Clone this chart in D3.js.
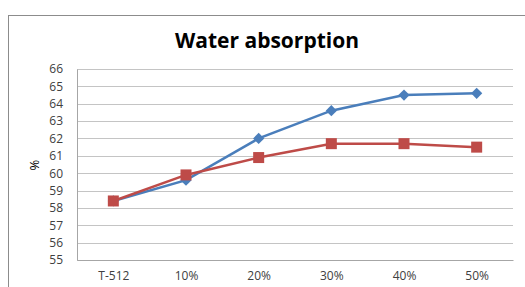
<!DOCTYPE html>
<html>
<head>
<meta charset="utf-8">
<script src="https://cdn.jsdelivr.net/npm/d3@7"></script>
<style>
  body { margin: 0; background: #fff; }
  svg { display: block; font-family: "Open Sans", "DejaVu Sans", sans-serif; }
</style>
</head>
<body>
<div id="chart"></div>
<script>
var categories = ["T-512", "10%", "20%", "30%", "40%", "50%"];
var blueValues = [58.4, 59.6, 62.0, 63.6, 64.5, 64.6];
var redValues = [58.4, 59.9, 60.9, 61.7, 61.7, 61.5];
var yTicks = [55, 56, 57, 58, 59, 60, 61, 62, 63, 64, 65, 66];

var svgWidth = 525;
var svgHeight = 287;

var margin = { top: 69, right: 12, bottom: 27, left: 77 };
var width = svgWidth - margin.left - margin.right;
var height = svgHeight - margin.top - margin.bottom;

var svg = d3.select("#chart")
  .append("svg")
  .attr("width", svgWidth)
  .attr("height", svgHeight);

// outer chart frame (runs off the right and bottom edges)
svg.append("rect")
  .attr("x", 8.5)
  .attr("y", 15.5)
  .attr("width", 600)
  .attr("height", 400)
  .attr("fill", "none")
  .attr("stroke", "#8c8c8c")
  .attr("stroke-width", 1);

svg.append("text")
  .attr("x", 267)
  .attr("y", 48)
  .attr("text-anchor", "middle")
  .attr("font-size", "21px")
  .attr("font-weight", "bold")
  .attr("fill", "#000")
  .text("Water absorption");

var chartGroup = svg.append("g")
  .attr("transform", `translate(${margin.left}, ${margin.top})`);

var xScale = d3.scalePoint()
  .domain(categories)
  .range([0, width])
  .padding(0.5);

var yScale = d3.scaleLinear()
  .domain([55, 66])
  .range([height, 0]);

// gridlines
chartGroup.append("g")
  .selectAll("line")
  .data(yTicks)
  .enter()
  .append("line")
  .attr("x1", 0)
  .attr("x2", width)
  .attr("y1", d => Math.round(yScale(d)) + 0.5)
  .attr("y2", d => Math.round(yScale(d)) + 0.5)
  .attr("stroke", "#c4c4c4")
  .attr("stroke-width", 1);

var leftAxis = d3.axisLeft(yScale).tickValues(yTicks).tickSize(0).tickPadding(14);
var bottomAxis = d3.axisBottom(xScale).tickSize(0).tickPadding(11);

var yAxisG = chartGroup.append("g").call(leftAxis);
yAxisG.select(".domain").attr("stroke", "#a6a6a6");
yAxisG.selectAll("text").attr("font-size", "12px").attr("fill", "#404040").attr("font-family", "\"Open Sans\", sans-serif");

var xAxisG = chartGroup.append("g")
  .attr("transform", `translate(0, ${height})`)
  .call(bottomAxis);
xAxisG.select(".domain").attr("stroke", "#a6a6a6");
xAxisG.selectAll("text").attr("font-size", "12px").attr("fill", "#404040").attr("font-family", "\"Open Sans\", sans-serif");

chartGroup.append("text")
  .attr("transform", `translate(${39 - margin.left}, ${165 - margin.top}) rotate(-90)`)
  .attr("text-anchor", "middle")
  .attr("font-size", "13px")
  .attr("fill", "#000")
  .text("%");

var line = d3.line()
  .x((d, i) => xScale(categories[i]))
  .y(d => yScale(d));

chartGroup.append("path")
  .datum(blueValues)
  .attr("d", line)
  .attr("fill", "none")
  .attr("stroke", "#4a7ebb")
  .attr("stroke-width", 2.5);

chartGroup.append("path")
  .datum(redValues)
  .attr("d", line)
  .attr("fill", "none")
  .attr("stroke", "#be4b48")
  .attr("stroke-width", 2.5);

chartGroup.selectAll(".diamond")
  .data(blueValues)
  .enter()
  .append("path")
  .attr("class", "diamond")
  .attr("d", d3.symbol().type(d3.symbolDiamond2).size(80))
  .attr("transform", (d, i) => `translate(${xScale(categories[i])}, ${yScale(d)})`)
  .attr("fill", "#4a7ebb");

chartGroup.selectAll(".square")
  .data(redValues)
  .enter()
  .append("rect")
  .attr("class", "square")
  .attr("x", (d, i) => xScale(categories[i]) - 5.5)
  .attr("y", d => yScale(d) - 5.5)
  .attr("width", 11)
  .attr("height", 11)
  .attr("fill", "#be4b48");
</script>
</body>
</html>
